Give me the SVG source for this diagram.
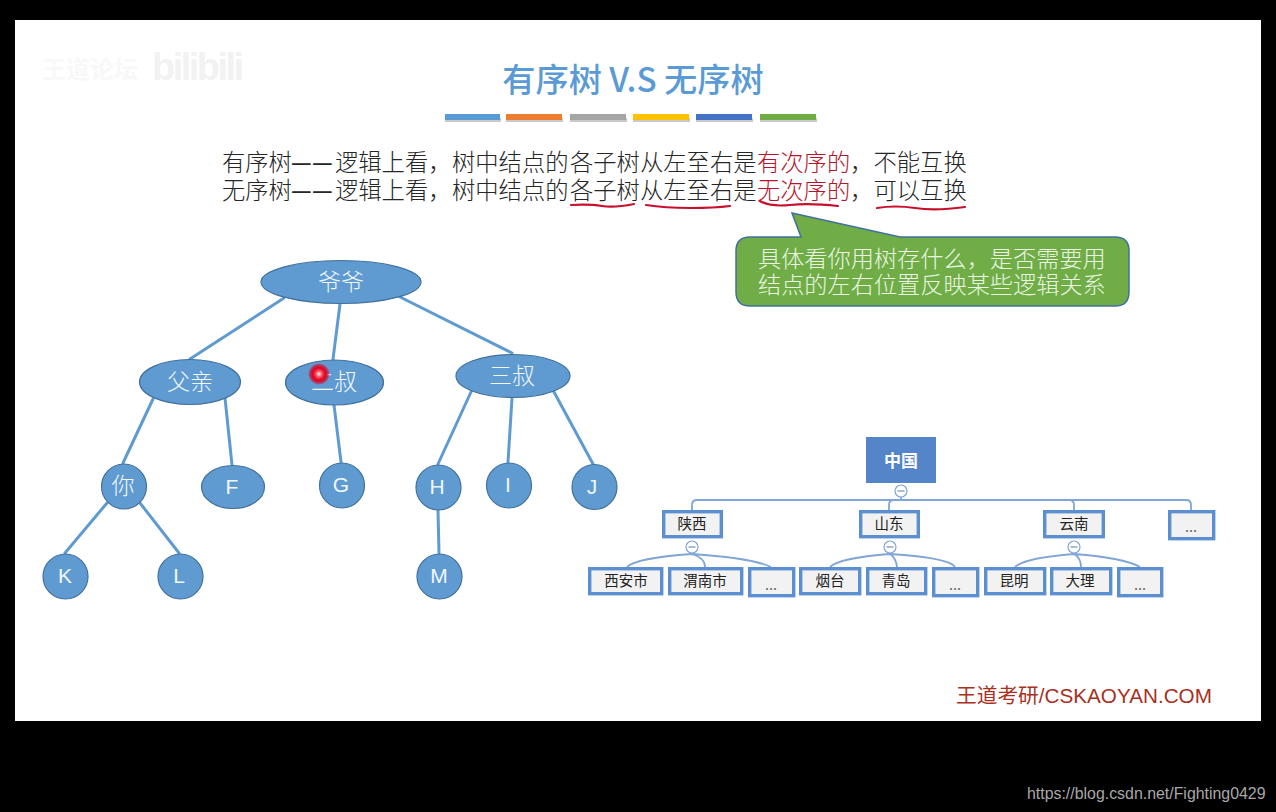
<svg xmlns="http://www.w3.org/2000/svg" width="1276" height="812" viewBox="0 0 1276 812">
<style>
text{font-family:"Noto Sans CJK SC","Liberation Sans",sans-serif}
.body{font-size:23.300px;fill:#262626;font-weight:300}
.red{fill:#B5152B}
.d{font-size:23px;font-weight:500}
.n{fill:#5F9BD1;stroke:#41719C;stroke-width:1.2}
.nt{fill:#F1F7FC;font-size:23px;text-anchor:middle;font-weight:300}
.lt{fill:#F1F7FC;font-size:21px;text-anchor:middle;font-family:"Liberation Sans","Noto Sans",sans-serif}
.e{stroke:#5F9BD1;stroke-width:3;fill:none;stroke-linecap:round}
.c{stroke:#7FA6D6;stroke-width:1.8;fill:none}
.b{fill:#F2F2F2;stroke:#5B8FD0;stroke-width:3.4}
.bt{fill:#222;font-size:14.500px;text-anchor:middle}
.m{fill:#fff;stroke:#7FA6D6;stroke-width:1.2}
.ml{stroke:#6F8FB8;stroke-width:1.2}
.u{stroke:#C8102E;stroke-width:2.2;fill:none;stroke-linecap:round}
.s{fill:#C9C9C9}
</style>
<defs>
<radialGradient id="laser"><stop offset="0" stop-color="#fff"/><stop offset=".25" stop-color="#ff5a6a"/><stop offset=".55" stop-color="#e00020"/><stop offset=".8" stop-color="#e00020" stop-opacity=".7"/><stop offset="1" stop-color="#e00020" stop-opacity="0"/></radialGradient>
</defs>
<rect width="1276" height="812" fill="#000"/>
<rect x="15" y="20" width="1246" height="701" fill="#fff"/>
<text x="42" y="78" font-size="24" fill="#F8F8F8" font-weight="700">王道论坛</text>
<text x="152" y="80" font-size="38" fill="#F2F2F2" font-weight="700" style="font-family:'Liberation Sans',sans-serif" textLength="92">bilibili</text>

<text id="title" x="633" y="92" font-size="33.200" font-weight="500" fill="#5B9BD5" text-anchor="middle">有序树 V.S 无序树</text>
<g id="bars">
<rect class="s" x="445" y="118" width="56" height="4"/>
<rect class="s" x="506" y="118" width="57" height="4"/>
<rect class="s" x="570" y="118" width="57" height="4"/>
<rect class="s" x="633" y="118" width="57" height="4"/>
<rect class="s" x="696" y="118" width="57" height="4"/>
<rect class="s" x="760" y="118" width="57" height="4"/>
<rect x="445" y="114" width="55" height="6" fill="#5B9BD5"/>
<rect x="506" y="114" width="56" height="6" fill="#ED7D31"/>
<rect x="570" y="114" width="56" height="6" fill="#A5A5A5"/>
<rect x="633" y="114" width="56" height="6" fill="#FFC000"/>
<rect x="696" y="114" width="56" height="6" fill="#4472C4"/>
<rect x="760" y="114" width="56" height="6" fill="#70AD47"/>
</g>
<text class="body" y="171"><tspan x="222">有序树</tspan><tspan class="d" x="291 312">——</tspan><tspan x="335">逻辑上看，</tspan><tspan x="452">树中结点的</tspan><tspan x="570">各子树</tspan><tspan x="640">从左至右是</tspan><tspan class="red" x="757">有次序的</tspan><tspan x="850">，</tspan><tspan x="873.500">不能互换</tspan></text>
<text class="body" y="199"><tspan x="222">无序树</tspan><tspan class="d" x="291 312">——</tspan><tspan x="335">逻辑上看，</tspan><tspan x="452">树中结点的</tspan><tspan x="570">各子树</tspan><tspan x="640">从左至右是</tspan><tspan class="red" x="757">无次序的</tspan><tspan x="850">，</tspan><tspan x="873.500">可以互换</tspan></text>
<g id="underlines">
<path class="u" d="M571 205Q590 204 602 206T634 204"/>
<path class="u" d="M646 205Q665 208 690 208T730 206"/>
<path class="u" d="M760 201Q770 207 790 205T838 206"/>
<path class="u" d="M877 208Q895 205 915 208T965 207"/>
</g>
<g id="callout">
<path d="M792 213L900 237H1115Q1129 237 1129 251V292Q1129 306 1115 306H750Q736 306 736 292V251Q736 237 750 237H801Z" fill="#70AD47" stroke="#41719C" stroke-width="1.5"/>
<text x="758" y="267" font-size="23.200" fill="#EAF5E2" font-weight="300">具体看你用树存什么，是否需要用</text>
<text x="758" y="293" font-size="23.200" fill="#EAF5E2" font-weight="300">结点的左右位置反映某些逻辑关系</text>
</g>

<g id="connectors">
<path class="e" d="M284 298L190 359M340 304L333 359M400 297L512 353M153 399L123 463M225 398L232 465M334 405L341 462M471 392L438 464M512 398L508 462M554 392L593 464M107 503L65 553M140 503L179 553M438 510L439 553"/>
<path class="c" d="M901 497V500M692 510V505Q692 500 697 500H1186Q1191 500 1191 505V510M889 510V505Q889 500 894 500M1074 510V505Q1074 500 1069 500"/>
<path class="c" d="M627 567Q636 558 692 554Q752 558 771 567M692 554Q705 558 705 567"/>
<path class="c" d="M830 567Q839 558 890 554Q950 558 955 567M890 554Q896 558 897 567"/>
<path class="c" d="M1015 567Q1024 558 1074 554Q1125 558 1140 567M1074 554Q1081 558 1081 567"/>
</g>

<g id="n-yeye"><ellipse class="n" cx="341" cy="282" rx="80" ry="21.500"/><text class="nt" x="341" y="290">爷爷</text></g>
<g id="n-father"><ellipse class="n" cx="190" cy="382" rx="50.500" ry="22.500"/><text class="nt" x="190" y="390">父亲</text></g>
<g id="n-uncle2"><ellipse class="n" cx="334.500" cy="382.500" rx="49" ry="22.500"/><text class="nt" x="334" y="390">二叔</text></g>
<g id="n-uncle3"><ellipse class="n" cx="513" cy="376" rx="57" ry="21.500"/><text class="nt" x="512" y="384">三叔</text></g>
<g id="n-you"><circle class="n" cx="124" cy="486.500" r="22.500"/><text class="nt" x="123" y="494">你</text></g>
<g id="n-F"><ellipse class="n" cx="233" cy="487" rx="31.500" ry="21.500"/><text class="lt" x="232" y="494">F</text></g>
<g id="n-G"><circle class="n" cx="342" cy="485.500" r="22.500"/><text class="lt" x="341" y="492">G</text></g>
<g id="n-H"><circle class="n" cx="438.500" cy="487.500" r="22.500"/><text class="lt" x="437" y="494">H</text></g>
<g id="n-I"><circle class="n" cx="509" cy="485.500" r="22.500"/><text class="lt" x="508" y="492">I</text></g>
<g id="n-J"><circle class="n" cx="594.500" cy="487" r="22.500"/><text class="lt" x="592" y="494">J</text></g>
<g id="n-K"><circle class="n" cx="65.500" cy="576.500" r="22.500"/><text class="lt" x="65" y="583">K</text></g>
<g id="n-L"><circle class="n" cx="180.500" cy="576.500" r="22.500"/><text class="lt" x="179" y="583">L</text></g>
<g id="n-M"><circle class="n" cx="439.500" cy="576.500" r="22.500"/><text class="lt" x="439" y="583">M</text></g>
<circle id="laser-dot" cx="319" cy="374" r="11" fill="url(#laser)"/>

<g id="o-china"><rect x="866" y="437" width="70" height="46" fill="#5585C9"/><text x="901" y="467" font-size="17" font-weight="700" fill="#fff" text-anchor="middle">中国</text></g>
<g id="m1"><circle class="m" cx="901" cy="491" r="6"/><path class="ml" d="M897.500 491H904.500"/></g>
<g id="o-shaanxi"><rect class="b" x="663.700" y="511.700" width="57.600" height="25"/><text class="bt" x="692" y="529">陕西</text></g>
<g id="o-shandong"><rect class="b" x="860.700" y="511.700" width="57.600" height="25"/><text class="bt" x="889" y="529">山东</text></g>
<g id="o-yunnan"><rect class="b" x="1044.700" y="511.700" width="58.600" height="25"/><text class="bt" x="1074" y="529">云南</text></g>
<g id="o-more1"><rect class="b" x="1169.700" y="511.700" width="44" height="27"/><text class="bt" x="1191" y="532" fill-opacity=".7">...</text></g>
<g id="m2"><circle class="m" cx="692" cy="547" r="6"/><path class="ml" d="M688.500 547H695.500"/></g>
<g id="m3"><circle class="m" cx="890" cy="547" r="6"/><path class="ml" d="M886.500 547H893.500"/></g>
<g id="m4"><circle class="m" cx="1074" cy="547" r="6"/><path class="ml" d="M1070.500 547H1077.500"/></g>
<g id="o-xian"><rect class="b" x="589.700" y="568.700" width="72" height="25"/><text class="bt" x="626" y="586">西安市</text></g>
<g id="o-weinan"><rect class="b" x="669.700" y="568.700" width="72" height="25"/><text class="bt" x="705" y="586">渭南市</text></g>
<g id="o-more2"><rect class="b" x="749.700" y="568.700" width="44" height="27"/><text class="bt" x="771" y="590" fill-opacity=".7">...</text></g>
<g id="o-yantai"><rect class="b" x="800.700" y="568.700" width="59" height="25"/><text class="bt" x="830" y="586">烟台</text></g>
<g id="o-qingdao"><rect class="b" x="867.700" y="568.700" width="58" height="25"/><text class="bt" x="896" y="586">青岛</text></g>
<g id="o-more3"><rect class="b" x="933.700" y="568.700" width="44" height="27"/><text class="bt" x="955" y="590" fill-opacity=".7">...</text></g>
<g id="o-kunming"><rect class="b" x="985.700" y="568.700" width="59" height="25"/><text class="bt" x="1014" y="586">昆明</text></g>
<g id="o-dali"><rect class="b" x="1051.700" y="568.700" width="59" height="25"/><text class="bt" x="1080" y="586">大理</text></g>
<g id="o-more4"><rect class="b" x="1118.700" y="568.700" width="43" height="27"/><text class="bt" x="1140" y="590" fill-opacity=".7">...</text></g>

<text x="956" y="703" font-size="20.700" fill="#A8301E" style="font-family:'Liberation Sans','Noto Sans CJK SC',sans-serif" font-weight="400">王道考研/CSKAOYAN.COM</text>
<text x="1027" y="799" font-size="15.900" fill="#A8A8A8" style="font-family:'Liberation Sans',sans-serif">https://blog.csdn.net/Fighting0429</text>
</svg>
